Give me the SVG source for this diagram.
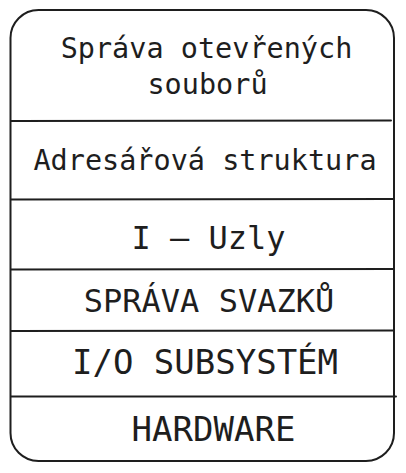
<svg xmlns="http://www.w3.org/2000/svg" width="406" height="473" viewBox="0 0 406 473">
<style>
.frame{fill:#ffffff;stroke:#1e1e1e;stroke-width:2;}
.div{stroke:#1e1e1e;stroke-width:2;fill:none;stroke-linecap:round;}
.t{font-family:"DejaVu Sans Mono","Liberation Mono",monospace;fill:#1e1e1e;text-anchor:middle;}
.s28{font-size:28.5px;}
.s32{font-size:32px;}
.s34{font-size:34px;}
</style>
<rect width="406" height="473" fill="#ffffff"/>
<g id="frame">
<rect class="frame" x="10.5" y="10" width="383.5" height="451" rx="28" ry="28"/>
</g>
<g id="connectors">
<line class="div" x1="11" y1="121" x2="391" y2="120.5"/>
<line class="div" x1="11" y1="199.5" x2="393" y2="199"/>
<line class="div" x1="11" y1="269.5" x2="393" y2="269"/>
<line class="div" x1="11" y1="331" x2="393" y2="330.5"/>
<line class="div" x1="11" y1="396.5" x2="396" y2="396.5"/>
</g>
<g id="node-sprava-otevrenych">
<text class="t s28" x="206.5" y="58">Správa otevřených</text>
<text class="t s28" x="207.5" y="94">souborů</text>
</g>
<g id="node-adresarova">
<text class="t s28" x="205" y="170">Adresářová struktura</text>
</g>
<g id="node-iuzly">
<text class="t s32" x="208.5" y="249">I – Uzly</text>
</g>
<g id="node-sprava-svazku">
<text class="t s32" x="209" y="311.5">SPRÁVA SVAZKŮ</text>
</g>
<g id="node-io">
<text class="t s34" x="205" y="374">I/O SUBSYSTÉM</text>
</g>
<g id="node-hardware">
<text class="t s34" x="213.5" y="441">HARDWARE</text>
</g>
</svg>
